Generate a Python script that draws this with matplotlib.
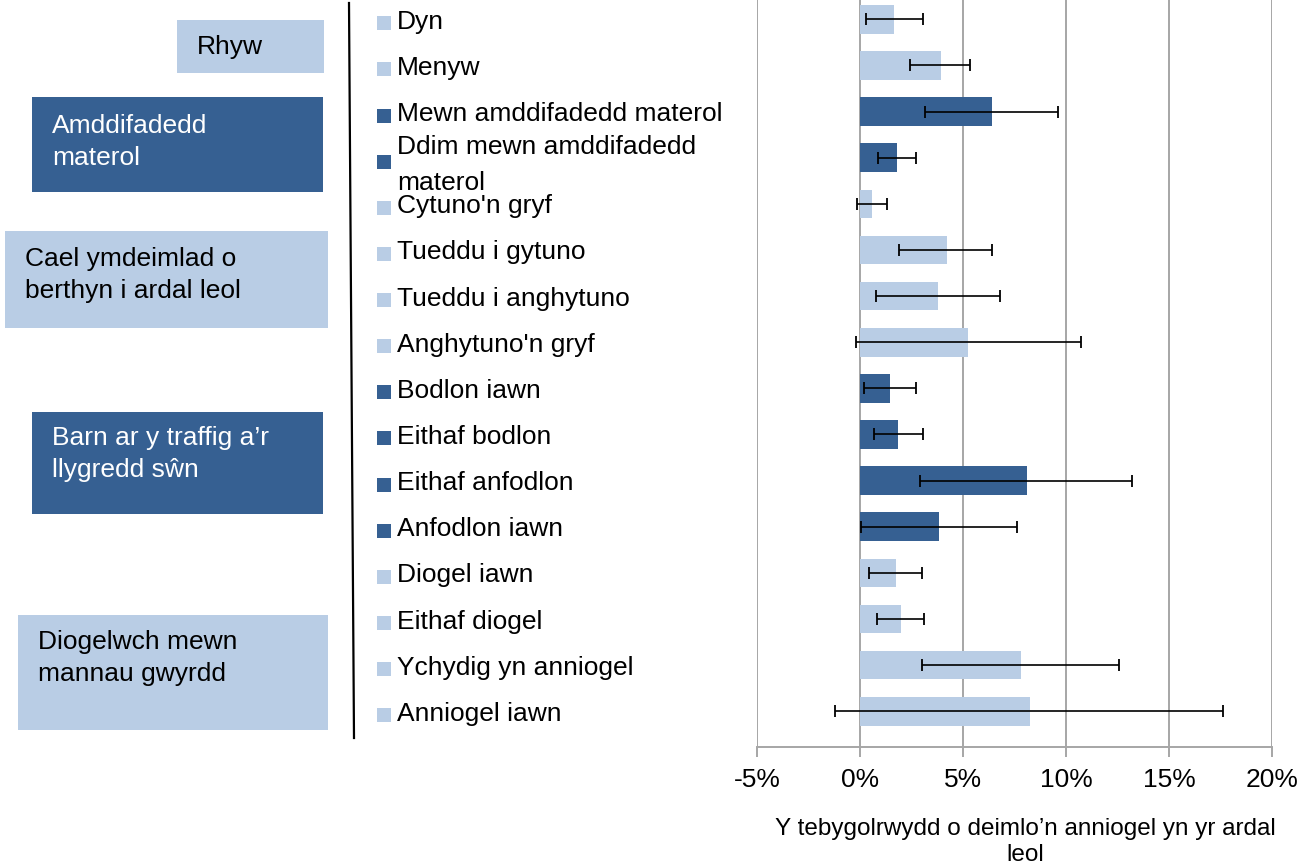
import matplotlib
matplotlib.use("Agg")
import matplotlib.pyplot as plt
import matplotlib.transforms as mtransforms
from matplotlib.patches import Rectangle
from matplotlib.lines import Line2D
from matplotlib.ticker import FuncFormatter
import numpy as np

plt.rcParams["font.family"] = ["Liberation Sans", "DejaVu Sans"]

# ---------------------------------------------------------------------------
# Data
# ---------------------------------------------------------------------------
categories = [
    "Dyn", "Menyw",
    "Mewn amddifadedd materol", "Ddim mewn amddifadedd\nmaterol",
    "Cytuno'n gryf", "Tueddu i gytuno", "Tueddu i anghytuno", "Anghytuno'n gryf",
    "Bodlon iawn", "Eithaf bodlon", "Eithaf anfodlon", "Anfodlon iawn",
    "Diogel iawn", "Eithaf diogel", "Ychydig yn anniogel", "Anniogel iawn",
]
values = [1.67, 3.91, 6.39, 1.81, 0.59, 4.20, 3.80, 5.26,
          1.48, 1.86, 8.09, 3.85, 1.77, 2.01, 7.80, 8.23]
ci_low = [0.30, 2.43, 3.14, 0.87, -0.14, 1.91, 0.80, -0.21,
          0.19, 0.68, 2.92, 0.07, 0.42, 0.82, 3.02, -1.23]
ci_high = [3.07, 5.33, 9.62, 2.71, 1.32, 6.42, 6.81, 10.73,
           2.73, 3.04, 13.21, 7.62, 3.02, 3.13, 12.59, 17.64]
# 0 = light, 1 = dark
shade = [0, 0, 1, 1, 0, 0, 0, 0, 1, 1, 1, 1, 0, 0, 0, 0]

groups = ["Rhyw", "Amddifadedd\nmaterol", "Cael ymdeimlad o\nberthyn i ardal leol",
          "Barn ar y traffig a’r\nllygredd sŵn", "Diogelwch mewn\nmannau gwyrdd"]
group_shade = [0, 1, 0, 1, 0]

x_ticks = [-5, 0, 5, 10, 15, 20]
x_label = "Y tebygolrwydd o deimlo’n anniogel yn yr ardal\nleol"

LIGHT = "#B9CDE5"
DARK = "#366092"
GRID = "#A6A6A6"

# group box layout in pixels: x0, y_top, x1, y_bottom, text_x, text_y
BOXES = [
    (177, 20, 324, 73, 197, 47),
    (32, 97, 323, 192, 52, 142),
    (5, 231, 328, 328, 25, 275),
    (32, 412, 323, 514, 52, 454),
    (18, 615, 328, 730, 38, 658),
]

W, H = 1312, 867
fig = plt.figure(figsize=(W / 100, H / 100), dpi=100)
ax = fig.add_axes([757 / W, 1 - 747 / H, 515 / W, 747 / H])

y = np.arange(len(categories))
vals = np.array(values)
lo = vals - np.array(ci_low)
hi = np.array(ci_high) - vals
colors = [DARK if s else LIGHT for s in shade]

ax.barh(y, vals, height=0.62, color=colors, edgecolor="none", zorder=2)
ax.errorbar(vals, y, xerr=[lo, hi], fmt="none", ecolor="black",
            elinewidth=1.2, capsize=4, capthick=1.3, zorder=3)

ax.set_xlim(-5, 20)
ax.set_ylim(15.774, -0.418)
ax.set_xticks(x_ticks)
ax.xaxis.set_major_formatter(FuncFormatter(lambda v, p: f"{v:.0f}%"))
ax.tick_params(axis="x", labelsize=19, length=7, width=1.4, color=GRID, pad=8)
ax.set_yticks([])
ax.grid(axis="x", color=GRID, lw=1.4, zorder=0)
ax.set_axisbelow(True)
for s in ["top", "right", "left"]:
    ax.spines[s].set_visible(False)
ax.spines["bottom"].set_color(GRID)
ax.spines["bottom"].set_linewidth(1.4)
ax.set_xlabel(x_label, fontsize=17.5, labelpad=19, linespacing=1.2)
ax.xaxis.label.set_x((1025 - 757) / 515)

# category labels with small square keys
trans = mtransforms.blended_transform_factory(fig.transFigure, ax.transData)
key_trans = trans + mtransforms.ScaledTranslation(0, -4 / 100, fig.dpi_scale_trans)
for i, (lab, s) in enumerate(zip(categories, shade)):
    ax.scatter([384 / W], [i], marker="s", s=100, color=DARK if s else LIGHT,
               transform=key_trans, clip_on=False, linewidths=0)
    shift = 2.5 + 5 * lab.count("\n")
    txt_trans = trans + mtransforms.ScaledTranslation(0, -shift / 100,
                                                      fig.dpi_scale_trans)
    ax.text(397 / W, i, lab, transform=txt_trans, fontsize=19, va="center",
            ha="left", linespacing=1.6)

# vertical divider
fig.add_artist(Line2D([349 / W, 354 / W], [1 - 3 / H, 1 - 738 / H],
                      color="black", lw=1.6))

# group boxes
for (x0, yt, x1, yb, tx, ty), lab, s in zip(BOXES, groups, group_shade):
    fig.add_artist(Rectangle((x0 / W, 1 - yb / H), (x1 - x0) / W, (yb - yt) / H,
                             transform=fig.transFigure,
                             facecolor=DARK if s else LIGHT, edgecolor="none"))
    fig.text(tx / W, 1 - ty / H, lab, fontsize=19, va="center", ha="left",
             color="white" if s else "black", linespacing=1.4)

fig.savefig("out.png", dpi=100)
